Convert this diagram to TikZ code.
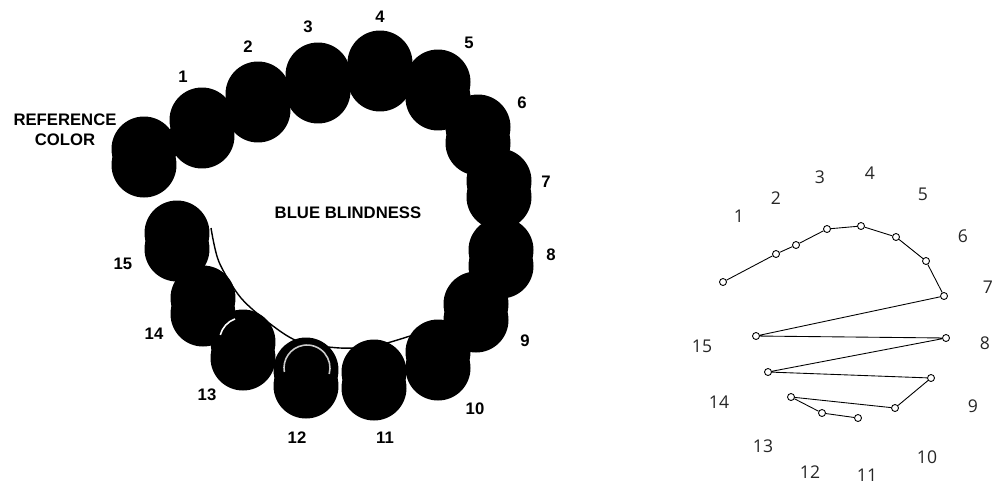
\documentclass[tikz,border=0pt]{standalone}
\usepackage{fontspec}
\setsansfont{Liberation Sans}
\newfontfamily\plotfont{Open Sans}

\tikzset{
    capsule/.pic={
        \fill (0,-8) circle[radius=0.65cm];
        \fill (0,8) circle[radius=0.65cm];
        \coordinate (-c) at (0,0);
    }
}

\begin{document}
\begin{tikzpicture}[x=0.02cm, y=-0.02cm,
    num/.style={font=\sffamily\bfseries\fontsize{9.5}{10}\selectfont},
    title/.style={font=\sffamily\bfseries\fontsize{9.5}{11.5}\selectfont, align=center},
    dot/.style={circle, draw, fill=white, inner sep=0pt, minimum size=0.14cm, line width=0.5pt},
    plotlabel/.style={font=\plotfont\fontsize{10}{12}\selectfont, text=black!85},
    link/.style={line width=0.5pt}
]
    \useasboundingbox (0,0) rectangle (993,484);

    % string along the inner side of the caps
    \draw[line width=0.8pt] plot[smooth] coordinates {(211,228) (219,262) (241,298) (273,326) (300,342) (340,348) (375,346) (410,336)};

    % Caps
    \pic (ref) at (144,157) {capsule};
    \pic (cap1) at (202,128) {capsule};
    \pic (cap2) at (258,102) {capsule};
    \pic (cap3) at (318,83) {capsule};
    \pic (cap4) at (380,71) {capsule};
    \pic (cap5) at (438,90) {capsule};
    \pic (cap6) at (478,135) {capsule};
    \pic (cap7) at (499,189) {capsule};
    \pic (cap8) at (501,258) {capsule};
    \pic (cap9) at (476,312) {capsule};
    \pic (cap10) at (438,360) {capsule};
    \pic (cap11) at (374,380) {capsule};
    \pic (cap12) at (306,378) {capsule};
    \pic (cap13) at (243,350) {capsule};
    \pic (cap14) at (203,306) {capsule};
    \pic (cap15) at (177,241) {capsule};

    % highlights
    \draw[white, line width=0.9pt] (243,341) ++(165:0.47cm) arc[start angle=165, end angle=110, radius=0.47cm];
    \draw[white!80!black, line width=0.9pt] (307,368) ++(190:0.46cm) arc[start angle=190, end angle=-15, radius=0.46cm];

    % Cap labels
    \node[title] (reflabel) at (65,130) {REFERENCE\\COLOR};
    \node[title] (blue) at (348,213) {BLUE BLINDNESS};
    \node[num] (n1) at (183,77) {1};
    \node[num] (n2) at (248,47) {2};
    \node[num] (n3) at (308,27) {3};
    \node[num] (n4) at (380,17) {4};
    \node[num] (n5) at (469,43) {5};
    \node[num] (n6) at (522,103) {6};
    \node[num] (n7) at (546,182) {7};
    \node[num] (n8) at (551,255) {8};
    \node[num] (n9) at (525,341) {9};
    \node[num] (n10) at (475,409) {10};
    \node[num] (n11) at (385,438) {11};
    \node[num] (n12) at (297,438) {12};
    \node[num] (n13) at (207,395) {13};
    \node[num] (n14) at (154,334) {14};
    \node[num] (n15) at (123,264) {15};

    % Plot points
    \node[dot] (q0) at (723,282) {};
    \node[dot] (q1) at (776,254) {};
    \node[dot] (q2) at (796,245) {};
    \node[dot] (q3) at (827,229) {};
    \node[dot] (q4) at (861,226) {};
    \node[dot] (q5) at (896,237) {};
    \node[dot] (q6) at (926,261) {};
    \node[dot] (q7) at (944,296) {};
    \node[dot] (q15) at (756,336) {};
    \node[dot] (q8) at (946,338) {};
    \node[dot] (q14) at (768,372) {};
    \node[dot] (q9) at (931,378) {};
    \node[dot] (q10) at (895,408) {};
    \node[dot] (q13) at (791,397) {};
    \node[dot] (q12) at (822,413) {};
    \node[dot] (q11) at (858,418) {};

    \draw[link] (q0) -- (q1) -- (q2) -- (q3) -- (q4) -- (q5) -- (q6) -- (q7) -- (q15) -- (q8) -- (q14) -- (q9) -- (q10) -- (q13) -- (q12) -- (q11);

    % Plot labels
    \node[plotlabel] (t1) at (739,216) {1};
    \node[plotlabel] (t2) at (776,198) {2};
    \node[plotlabel] (t3) at (820,177) {3};
    \node[plotlabel] (t4) at (870,173) {4};
    \node[plotlabel] (t5) at (923,194) {5};
    \node[plotlabel] (t6) at (963,236) {6};
    \node[plotlabel] (t7) at (988,287) {7};
    \node[plotlabel] (t8) at (985,343) {8};
    \node[plotlabel] (t9) at (973,406) {9};
    \node[plotlabel] (t10) at (927,457) {10};
    \node[plotlabel] (t11) at (867,475) {11};
    \node[plotlabel] (t12) at (810,472) {12};
    \node[plotlabel] (t13) at (763,446) {13};
    \node[plotlabel] (t14) at (719,402) {14};
    \node[plotlabel] (t15) at (702,346) {15};
\end{tikzpicture}
\end{document}
